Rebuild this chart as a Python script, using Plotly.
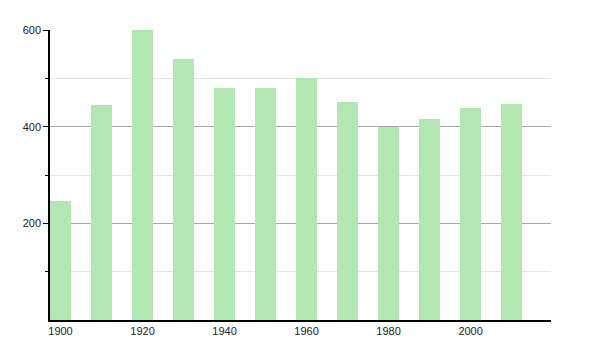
import plotly.graph_objects as go

years = [1900, 1910, 1920, 1930, 1940, 1950, 1960, 1970, 1980, 1990, 2000, 2010]
population = [246, 445, 600, 540, 480, 480, 501, 451, 399, 416, 439, 447]
x_ticks = [1900, 1920, 1940, 1960, 1980, 2000]
y_ticks = [200, 400, 600]

fig = go.Figure()
fig.add_trace(go.Bar(
    x=years, y=population, width=5.1,
    marker=dict(color="rgb(178,230,178)", line=dict(width=0)),
    hoverinfo="x+y",
))

tick_font = dict(family="Liberation Sans, Arial, sans-serif", size=11, color="#222222")

fig.update_layout(
    width=600, height=350,
    margin=dict(l=50, r=49, t=30, b=30),
    paper_bgcolor="white", plot_bgcolor="white",
    showlegend=False,
    font=dict(family="Liberation Sans, Arial, sans-serif", size=11, color="#222222"),
    xaxis=dict(
        range=[1897.44, 2019.6],
        tickvals=x_ticks, ticktext=[str(v) for v in x_ticks],
        tickfont=tick_font,
        showgrid=False, zeroline=False,
        showline=True, linecolor="black", linewidth=1.5,
        ticks="", ticklen=0,
    ),
    yaxis=dict(
        range=[0, 600],
        tickvals=y_ticks, ticktext=[str(v) for v in y_ticks],
        tickfont=tick_font,
        showgrid=True, gridcolor="#a8a8a8", gridwidth=1,
        zeroline=False,
        showline=True, linecolor="black", linewidth=1.5,
        ticks="outside", ticklen=5, tickcolor="black", tickwidth=1,
        minor=dict(tickvals=[100, 300, 500], ticks="outside", ticklen=3,
                   tickcolor="black", showgrid=True, gridcolor="#e4e4e4"),
    ),
    bargap=0,
)

fig.write_html("out.html")
